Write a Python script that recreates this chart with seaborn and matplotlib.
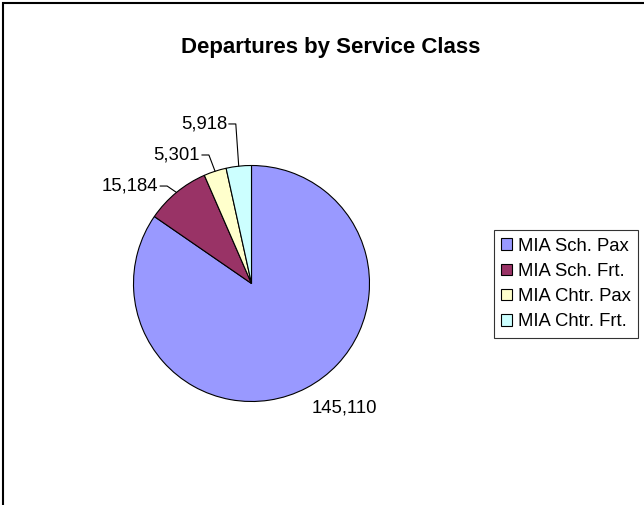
import numpy as np
import seaborn as sns
import matplotlib.pyplot as plt
from matplotlib.patches import Rectangle

categories = ["MIA Sch. Pax", "MIA Sch. Frt.", "MIA Chtr. Pax", "MIA Chtr. Frt."]
departures = [145110, 15184, 5301, 5918]
colors = ["#9999FF", "#993366", "#FFFFCC", "#CCFFFF"]

# label text anchors (data units, pie radius = 1) and whether a leader line is drawn
label_pos = [(0.79, -1.055), (-0.79, 0.826), (-0.436, 1.089), (-0.208, 1.352)]
leader = [False, True, True, True]

sns.set_style("white")
plt.rcParams["font.family"] = ["Liberation Sans", "DejaVu Sans"]
plt.rcParams["text.color"] = "black"

W, H = 644, 505
fig = plt.figure(figsize=(W / 100, H / 100), dpi=100)
fig.patch.set_facecolor("white")

# pie centre (251.5, 283.5) px, radius 118 px
cx, cy, R, half = 251.5, 283.5, 118, 200
ax = fig.add_axes([(cx - half) / W, (H - cy - half) / H, 2 * half / W, 2 * half / H])
wedges, _ = ax.pie(departures, colors=colors, startangle=90, counterclock=False,
                   wedgeprops=dict(edgecolor="black", linewidth=0.8))
lim = half / R
ax.set_xlim(-lim, lim)
ax.set_ylim(-lim, lim)
ax.set_aspect("equal")
ax.axis("off")

for w, val, (tx, ty), lead in zip(wedges, departures, label_pos, leader):
    mid = np.deg2rad((w.theta1 + w.theta2) / 2)
    if lead:
        ax.text(tx, ty, f"{val:,}", ha="right", va="center", fontsize=13.3)
        ex, ey = np.cos(mid), np.sin(mid)
        ax.plot([tx + 0.015, tx + 0.075, ex], [ty, ty, ey], color="black", lw=0.8)
    else:
        ax.text(tx, ty, f"{val:,}", ha="center", va="center", fontsize=13.3)

fig.text(331 / W, 1 - 47 / H, "Departures by Service Class", ha="center", va="center",
         fontsize=16, fontweight="bold")

leg = fig.legend(wedges, categories, loc="center left", bbox_to_anchor=(494 / W, 1 - 284 / H),
                 fontsize=13.3, frameon=True, fancybox=False, handlelength=0.58,
                 handleheight=0.58, handletextpad=0.3, labelspacing=0.45,
                 borderpad=0.4, borderaxespad=0)
leg.get_frame().set_edgecolor("black")
leg.get_frame().set_linewidth(0.8)

fig.patches.append(Rectangle((3 / W, -0.2), 1.2, 1.2 - 3 / H, transform=fig.transFigure,
                             fill=False, edgecolor="black", linewidth=1.5))

fig.savefig("out.png", dpi=100)
